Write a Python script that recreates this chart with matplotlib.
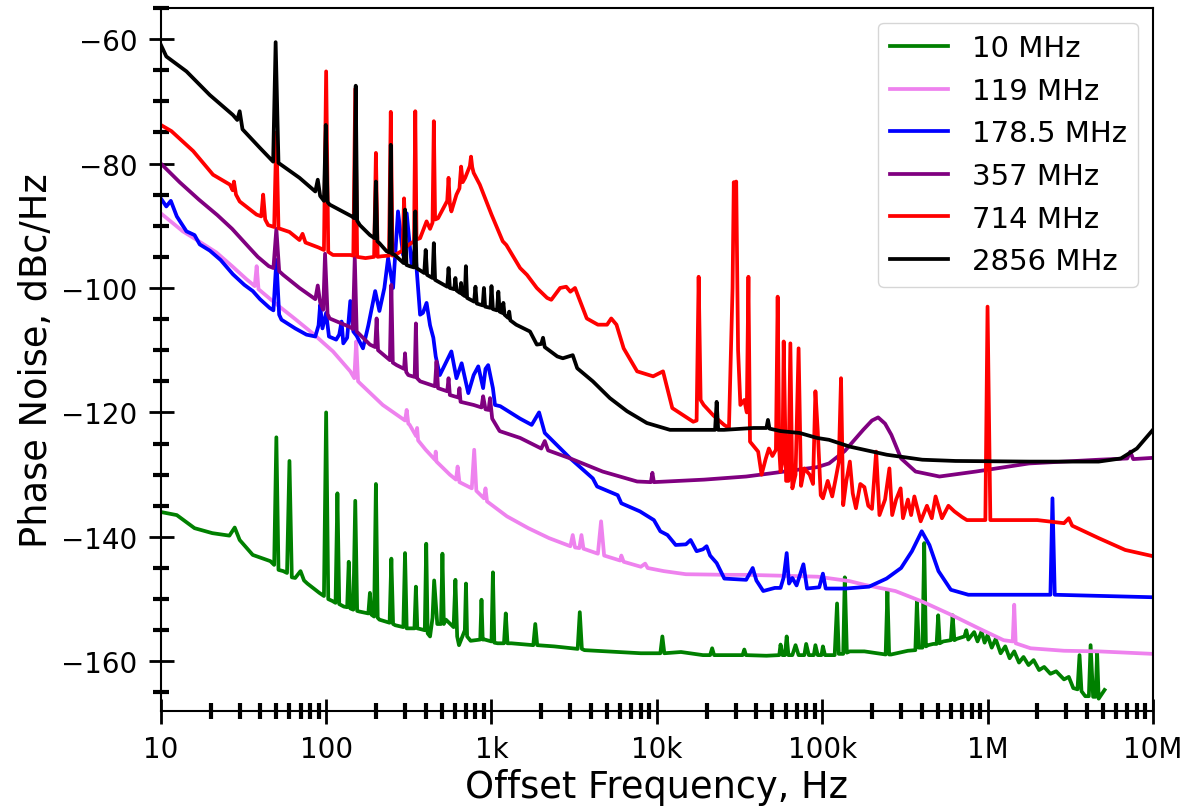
import matplotlib
matplotlib.use('Agg')
from matplotlib import pyplot as plt
from matplotlib.ticker import LogLocator, MultipleLocator, NullFormatter

# Фазовый шум: пары (частота отстройки, Гц; уровень, дБн/Гц)
green_pts = [(10, -136.0), (12.5, -136.5), (16, -138.6), (20.5, -139.4), (26, -139.8), (28, -138.5),
             (30, -140.5), (36, -142.9), (46, -143.9), (48.5, -144.5), (50, -124), (51.5, -145.3),
             (55, -145.5), (58, -145.8), (60, -127.8), (62, -146.5), (65, -146.6), (70, -145.5),
             (73.5, -147), (77, -147.5), (91, -149), (97, -149.5), (100, -120), (103, -150),
             (109, -150.3), (114, -150.6), (117, -133), (120, -150.8), (128, -151.2), (134, -151.3),
             (137, -144), (140, -151.5), (146, -151.7), (150, -134.2), (154, -151.9), (159, -152),
             (180, -152.3), (184, -149), (188, -152.5), (195, -152.8), (200, -131.5), (205, -153),
             (210, -153.3), (242, -153.8), (248, -143.5), (254, -154), (262, -154.2), (293, -154.5),
             (300, -142.6), (307, -154.7), (318, -154.7), (342, -154.7), (349, -148), (356, -154.7),
             (370, -154.8), (395, -155), (403, -141.1), (411, -155.5), (425, -156), (440, -153),
             (450, -147), (470, -154), (495, -154), (505, -142.7), (515, -154), (530, -153.3),
             (590, -154.5), (605, -146.9), (620, -156), (636, -157.4), (690, -155), (701, -147.5),
             (712, -156), (748, -156.7), (855, -156.5), (870, -150.1), (885, -156.5), (910, -156.5),
             (1000, -156.8), (1020, -145.7), (1040, -157), (1090, -157.1), (1190, -157.1),
             (1220, -152.3), (1250, -157.1), (1320, -157.1), (1790, -157.4), (1840, -154),
             (1890, -157.4), (2400, -157.6), (3320, -158), (3420, -152.1), (3520, -158), (3650, -158.2),
             (8000, -158.7), (10500, -158.7), (10800, -156), (11100, -158.7), (14000, -158.5),
             (19000, -159), (21000, -159), (21600, -157.9), (22200, -159), (27000, -159), (33000, -159),
             (33800, -158.1), (34600, -159), (46000, -159.1), (55000, -159), (56000, -157.3),
             (57500, -159), (59500, -159), (61000, -156), (62500, -159), (66000, -159), (69000, -157.4),
             (72000, -159), (78000, -159), (80000, -157.2), (83000, -159), (89000, -159),
             (91000, -157.4), (94000, -159), (99000, -159), (101000, -157.6), (104000, -159),
             (119000, -159), (123000, -150.7), (126000, -158.8), (130000, -158.8), (134000, -158.8),
             (137000, -146.5), (141000, -158.6), (147000, -158.4), (180000, -158.4), (242000, -158.9),
             (248000, -148.7), (254000, -158.9), (261000, -158.9), (330000, -158.3), (366000, -158.2),
             (374000, -150.4), (384000, -157.8), (404000, -157.8), (414000, -141), (424000, -157.6),
             (437000, -157.4), (470000, -157.2), (492000, -157.2), (503000, -152.6), (514000, -157.1),
             (540000, -156.8), (600000, -156.6), (615000, -152.6), (630000, -156.6), (650000, -156.4),
             (725000, -156), (744000, -155), (765000, -156.5), (830000, -155.3), (870000, -156.8),
             (920000, -155.2), (960000, -157), (1000000, -155.8), (1060000, -157.8), (1120000, -156.4),
             (1200000, -158.7), (1280000, -157.6), (1360000, -159.5), (1450000, -158.4),
             (1550000, -160.2), (1650000, -159.3), (1770000, -160.6), (1900000, -159.8),
             (2050000, -161.4), (2200000, -160.9), (2400000, -162), (2600000, -161.6), (2900000, -162.9),
             (3100000, -162.5), (3300000, -164.3), (3500000, -164.5), (3600000, -159), (3700000, -164.8),
             (3900000, -165.6), (4100000, -165.6), (4200000, -157.4), (4350000, -165.7),
             (4500000, -165.7), (4600000, -158.7), (4700000, -166), (5100000, -164.6)]

violet_pts = [(10, -88), (13.6, -90.9), (17, -92.5), (21.7, -94.3), (27, -96.5), (33, -98.6), (37, -99.7),
              (38, -96.5), (39, -100.2), (50, -102.6), (65, -105), (83, -107.3), (110, -110.2),
              (140, -113.4), (148, -114.5), (152, -108.6), (156, -115), (160, -115.3), (220, -118.8),
              (300, -121.3), (307, -119.6), (314, -121.8), (320, -122), (350, -123.8), (355, -122.5),
              (360, -124.5), (400, -126), (455, -127.6), (460, -126.3), (465, -127.9), (560, -130),
              (610, -130.8), (624, -128.7), (640, -131.2), (760, -132.2), (786, -126), (810, -132.6),
              (900, -133.8), (920, -132.2), (940, -134.3), (1240, -136.7), (1670, -138.6),
              (2230, -140.2), (3000, -141.5), (3100, -139.7), (3200, -141.7), (3400, -141.8),
              (3500, -139.7), (3600, -141.9), (4400, -142.7), (4600, -137.5), (4800, -143),
              (6000, -143.8), (6100, -143), (6300, -144), (8000, -144.8), (8500, -144.3), (8800, -145),
              (11000, -145.5), (15000, -146), (27000, -146.1), (34700, -146.1), (70000, -146.3),
              (94000, -146.4), (146000, -147.1), (180000, -147.7), (277000, -148.7), (403000, -150.4),
              (600000, -152.5), (885000, -154.7), (1250000, -156.6), (1420000, -156.8),
              (1450000, -150.9), (1480000, -157.1), (1820000, -157.9), (2900000, -158.3),
              (4700000, -158.4), (10000000, -158.8)]

blue_pts = [(10, -85.6), (10.8, -86.9), (11.5, -86), (12.5, -88.5), (14.3, -90.9), (16, -91.5),
            (17.2, -93), (19.8, -94), (23, -95.5), (27.3, -97.8), (32, -99.5), (36, -100.5),
            (39.8, -101.8), (45.5, -103.2), (48, -103.6), (50, -95.5), (52, -104.3), (53.7, -105.1),
            (65, -106.5), (76, -107.5), (86, -107.8), (90, -106), (92, -102.7), (95, -106.5), (100, -104),
            (104, -107.8), (115, -108.3), (120, -107.5), (124, -105.4), (127, -108.9), (134, -108),
            (140, -102.1), (146, -107), (153, -107.7), (167, -109.7), (180, -106), (198, -100.5),
            (210, -103.7), (225, -100), (237, -95.2), (254, -100), (272, -87.7), (292, -94.7),
            (307, -88), (329, -96.3), (345, -93.6), (370, -104.3), (385, -104), (405, -102.4),
            (425, -106), (445, -108), (460, -111), (487, -114), (572, -110.2), (614, -114.5),
            (660, -112.1), (724, -116.9), (780, -114), (832, -112.6), (890, -116.1), (920, -113),
            (955, -112.4), (1020, -116.1), (1050, -118.8), (1130, -119), (1490, -121), (1750, -122),
            (1940, -120), (2100, -123.3), (3000, -127.4), (4100, -130.6), (4350, -131.9),
            (5800, -133.3), (6100, -134.6), (7900, -135.9), (9600, -137.3), (10500, -139.1),
            (11600, -139.7), (13000, -141.3), (15000, -141.2), (16000, -140.5), (17400, -142.3),
            (19000, -142), (20000, -141.5), (21000, -143), (23000, -144.2), (25600, -146.7),
            (34700, -146.9), (38000, -145), (40000, -147), (44000, -148.7), (51700, -148.2),
            (56000, -148.2), (58500, -146.5), (61000, -142.6), (63000, -147.5), (66000, -146.6),
            (70000, -147.8), (77000, -144.4), (81000, -148.3), (96000, -148.1), (101000, -145.9),
            (105000, -148.3), (139000, -148.3), (192000, -148), (245000, -146.7), (300000, -145),
            (349000, -142.3), (400000, -139.1), (445000, -141.3), (505000, -145.5), (600000, -148.5),
            (765000, -149.3), (1780000, -149.3), (2400000, -149.3), (2470000, -133.8),
            (2550000, -149.3), (10000000, -149.7)]

purple_pts = [(10, -80), (13, -83), (17, -85.8), (22, -88.3), (27, -90.5), (34.5, -93.6), (38.6, -95),
              (45, -96.5), (48, -96.8), (50, -90.5), (52, -97.3), (55, -97.9), (69, -100), (86, -101.8),
              (89, -99.6), (92, -102.3), (96, -103.5), (98.5, -94.5), (102, -104.2), (105, -104.9),
              (140, -106.3), (145, -106.6), (149, -95), (153, -107), (160, -107.5), (184, -109.1),
              (198, -109.5), (202, -104.9), (206, -110), (243, -111.6), (248, -99.5), (253, -112),
              (267, -112.4), (296, -113), (300, -110.5), (305, -113.5), (314, -114), (343, -114.3),
              (349, -105.7), (355, -114.5), (370, -115), (455, -115.8), (465, -111.8), (475, -116.1),
              (540, -116.6), (550, -114.5), (560, -117.2), (630, -117.6), (640, -116.1), (650, -118.3),
              (780, -118.8), (870, -119.2), (890, -117.4), (920, -119.5), (960, -119.6), (980, -117.7),
              (1010, -121), (1120, -123), (1490, -124.1), (2000, -125.8), (2100, -124.6),
              (2200, -126.1), (3000, -127.4), (4700, -129.5), (7600, -131.1), (9200, -131.2),
              (9400, -129.7), (9600, -131.2), (19300, -130.8), (34700, -130.3), (48600, -129.8),
              (93000, -128.8), (110000, -128.2), (137000, -126.2), (177000, -122.8), (200000, -121.3),
              (218000, -120.8), (240000, -121.8), (262000, -123.6), (300000, -127.4), (367000, -129.5),
              (512000, -130.3), (850000, -129.5), (1780000, -128.2), (4700000, -127.6),
              (7000000, -127.4), (7300000, -126.3), (7600000, -127.5), (10000000, -127.3)]

red_pts = [(10, -73.8), (11.6, -74.8), (13, -76), (15.7, -78), (20.7, -81.8), (26.2, -83.4), (27.2, -84.3),
           (27.7, -82.9), (28.5, -85), (30, -86.1), (37.9, -88.2), (40.5, -88.5), (41.6, -85), (42.8, -89),
           (44.6, -89.9), (48.5, -90.2), (50, -75), (51.5, -90.4), (60, -91), (69, -92.3), (72, -91.3),
           (75, -92.7), (90, -93.5), (97, -93.9), (100, -65.2), (103, -94.2), (110, -94.7), (140, -94.7),
           (146, -94.8), (150, -68), (154, -95), (173, -95.2), (195, -95), (200, -78.3), (205, -95),
           (217, -94.9), (240, -94.8), (246, -71.7), (252, -94.8), (260, -94.7), (290, -94),
           (296, -85.6), (302, -93.5), (314, -93.1), (340, -92.5), (346, -71.6), (352, -92.2),
           (370, -92), (405, -89.3), (425, -90.5), (440, -89.5), (448, -73.2), (456, -89), (475, -88.8),
           (540, -86), (550, -82.3), (560, -86.5), (572, -87.7), (614, -85), (640, -84), (655, -80.5),
           (670, -83), (693, -82.3), (740, -80.4), (752, -78.9), (765, -80.6), (780, -81.5),
           (830, -82.9), (850, -83.4), (1000, -88.2), (1170, -92.5), (1230, -93.1), (1490, -96.8),
           (1640, -97.9), (1880, -100), (2170, -101.6), (2300, -101.9), (2600, -100), (2830, -99.8),
           (3000, -100.6), (3200, -100), (3770, -104.9), (4400, -105.9), (5000, -105.9),
           (5300, -104.9), (5700, -105.9), (6300, -109.7), (7600, -113.4), (9500, -114.2),
           (10900, -113.4), (12400, -119.3), (16600, -121.5), (17400, -121.3), (17900, -98.2),
           (18400, -118), (19200, -118.8), (22000, -120.5), (25500, -122), (27300, -122.5),
           (28700, -100), (29200, -83), (29700, -87), (30200, -82.9), (31000, -110), (32000, -118.8),
           (33800, -118), (35000, -120), (35800, -98.2), (36600, -124.7), (41000, -126.3),
           (43000, -130), (45500, -127.5), (47600, -125.8), (50000, -127), (52500, -126),
           (53800, -101.4), (55000, -126), (56000, -129.5), (57500, -128), (58500, -108.6),
           (60500, -131), (62500, -131), (64200, -108.9), (66000, -132.2), (69000, -130),
           (72000, -109.7), (74500, -131.8), (78000, -129), (84000, -130), (88000, -131.5),
           (91000, -116.6), (94000, -123), (98000, -133.3), (101000, -133.8), (108000, -131),
           (115000, -133.5), (120000, -131), (126000, -128), (130000, -114.5), (134000, -134.9),
           (140000, -131), (147000, -127.9), (153000, -133), (160000, -135.4), (170000, -131.5),
           (180000, -132), (190000, -135), (200000, -135.5), (212000, -126.3), (222000, -136.5),
           (240000, -134), (255000, -129), (265000, -136.5), (280000, -134), (298000, -132.2),
           (308000, -137), (330000, -134), (345000, -136.5), (361000, -133.5), (394000, -137.5),
           (430000, -135), (460000, -137), (485000, -133.5), (530000, -137), (580000, -135),
           (630000, -135.9), (700000, -136.8), (750000, -137.3), (970000, -137.3), (1000000, -103),
           (1040000, -137.3), (2000000, -137.3), (2900000, -137.8), (3100000, -137), (3250000, -138.2),
           (4700000, -140.2), (6800000, -142.1), (10000000, -143.1)]

black_pts = [(10, -60.9), (10.8, -62.8), (14.3, -65.2), (19.8, -69), (27.3, -72.2), (29, -73), (30, -71.6),
             (31.2, -74.5), (39.8, -77.5), (47.8, -79.7), (49.5, -60.5), (51.5, -79.9), (69, -82.3),
             (86, -84.5), (89, -82.6), (92, -85.2), (97, -86), (99.5, -73.8), (102, -86.2), (105, -86.6),
             (143, -88.5), (148, -88.8), (151, -67.5), (154, -89.2), (160, -89.9), (184, -91.5),
             (196, -92), (200, -82.9), (204, -92.5), (210, -92.8), (232, -94.1), (242, -94.3),
             (246, -77), (250, -94.5), (260, -94.7), (294, -96), (300, -87.4), (306, -96.3), (320, -96.5),
             (340, -96.7), (346, -87.7), (352, -96.8), (392, -97.6), (400, -93.9), (408, -97.9),
             (440, -98.4), (448, -92.8), (456, -98.7), (540, -99.8), (550, -96.8), (560, -100),
             (595, -100.2), (605, -98.4), (615, -100.4), (645, -100.8), (655, -99.2), (665, -101),
             (690, -101.3), (700, -96.5), (712, -101.6), (785, -102.2), (800, -99.8), (815, -102.5),
             (885, -102.8), (900, -100), (915, -103), (985, -103.2), (1000, -99.7), (1020, -103.4),
             (1080, -103.6), (1100, -100.6), (1120, -103.8), (1160, -104), (1180, -102.4),
             (1200, -104.3), (1260, -104.8), (1280, -103.8), (1300, -105.2), (1410, -105.9),
             (1710, -107), (1880, -109.1), (2000, -109), (2050, -108), (2100, -109.5), (2500, -111),
             (2700, -111.3), (3100, -110.8), (3300, -112.9), (4100, -115), (5200, -117.7),
             (6600, -119.8), (8700, -121.7), (12000, -122.8), (19200, -122.8), (22500, -122.8),
             (23000, -118.3), (23500, -122.8), (25500, -122.8), (38500, -122.5), (46000, -122.5),
             (47000, -121.2), (48000, -122.6), (56000, -123), (73000, -123.3), (93000, -124.1),
             (110000, -124.4), (147000, -125.5), (246000, -126.8), (403000, -127.6), (640000, -127.8),
             (1780000, -127.9), (4700000, -127.9), (6400000, -127.4), (8000000, -125.8),
             (10000000, -122.8)]

labels = ['10 MHz', '119 MHz', '178.5 MHz', '357 MHz', '714 MHz', '2856 MHz']
colors = ['green', 'violet', 'blue', 'purple', 'red', 'black']

fig, ax = plt.subplots(figsize=(11.91, 8.12), dpi=100)
fig.subplots_adjust(left=0.135, right=0.968, bottom=0.123, top=0.989)

series = [green_pts, violet_pts, blue_pts, purple_pts, red_pts, black_pts]
for pts, lab, col in zip(series, labels, colors):
    f, db = zip(*pts)
    ax.plot(f, db, color=col, lw=2.7, label=lab)

ax.set_xscale('log')
ax.set_xlim(10, 1e7)
ax.set_ylim(-168, -55)
ax.set_xticks([10, 100, 1e3, 1e4, 1e5, 1e6, 1e7], ['10', '100', '1k', '10k', '100k', '1M', '10M'])
ax.xaxis.set_minor_locator(LogLocator(base=10, subs=range(2, 10), numticks=20))
ax.xaxis.set_minor_formatter(NullFormatter())
ax.set_yticks(range(-160, -59, 20))
ax.yaxis.set_minor_locator(MultipleLocator(5))

ax.tick_params(which='major', direction='inout', length=18, width=2, labelsize=20, pad=8)
ax.tick_params(which='minor', direction='inout', length=11, width=3)
for s in ax.spines.values():
    s.set_linewidth(1.5)

ax.set_xlabel('Offset Frequency, Hz', fontsize=26.5)
ax.set_ylabel('Phase Noise, dBc/Hz', fontsize=26.5)
ax.legend(loc='upper right', fontsize=21)

fig.savefig('out.png', dpi=100)
